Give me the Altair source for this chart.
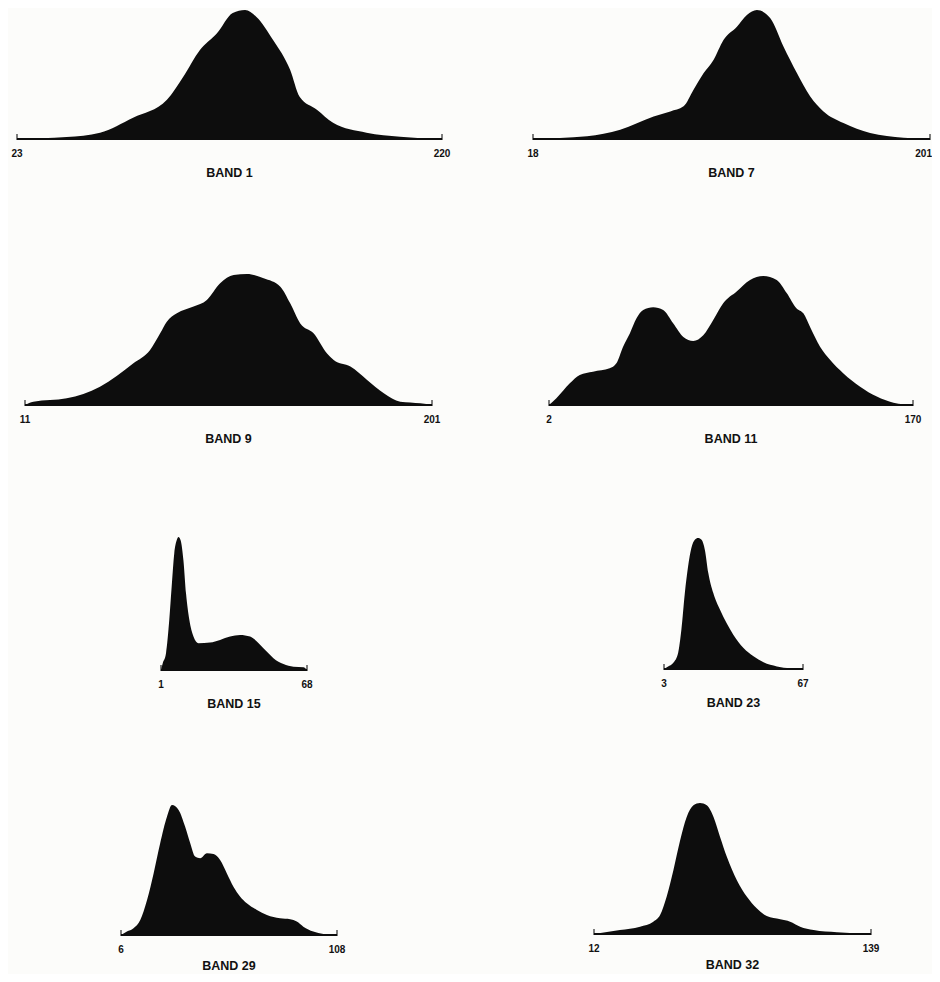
import altair as alt
import pandas as pd

# ---------------- data (brightness level, relative frequency %) ----------------
b1_x = [23, 46, 61.5, 76.8, 92.5, 100, 107.8, 115.7, 123, 128.7, 134, 141.7, 149.6, 154, 162, 169.5, 185, 200.6, 220]
b1_y = [0, 1.5, 4.9, 16.5, 30.4, 48, 69, 82, 97.7, 100, 94.6, 76.8, 53.6, 32.7, 22.7, 12.6, 4.9, 1.8, 0]

b7_x = [18, 42.9, 58.2, 73.6, 81.3, 87.4, 92, 96.6, 101.2, 105.8, 112, 116.6, 121.2, 127.4, 133.5, 139.7, 145.8, 151.9, 161.1, 173.4, 188.8, 201]
b7_y = [0, 2.1, 7.2, 17.5, 21.4, 25.3, 38.1, 50.9, 61.3, 76.8, 87.1, 96.1, 100, 93.6, 71.6, 51, 33, 21.4, 12.4, 4.6, 1, 0]

b9_x = [11, 14.9, 30.5, 46, 61.6, 69.4, 74.1, 77.2, 81.9, 89.7, 95.9, 102.1, 108.4, 114.6, 122.4, 130.2, 134.8, 139.5, 145.7, 152, 155.1, 162.9, 170.7, 178.5, 186.2, 195.6, 201]
b9_y = [0, 2.5, 5.1, 14, 31.8, 42, 54.7, 63.6, 70, 75.1, 80.2, 92.9, 99.2, 100, 96.7, 90.3, 77.6, 62.3, 54.7, 39.4, 34.4, 29.3, 19.1, 8.9, 2.5, 1.3, 0]

b11_x = [2, 5.4, 11.6, 16.2, 22.3, 30, 33.1, 36.2, 39.3, 42.4, 45.5, 50.1, 54.7, 59.3, 64, 68.6, 73.2, 77.8, 82.4, 88.6, 94.8, 100.9, 107.1, 111.7, 116.3, 119.4, 122.5, 127.1, 131.8, 137.9, 145.6, 153.3, 161, 170]
b11_y = [0, 5.2, 16.8, 23.3, 25.8, 28.4, 32.3, 45.2, 55.5, 67.2, 73.6, 75.7, 73.6, 63.3, 52.7, 49.6, 54, 65.9, 78.8, 87.9, 96.9, 100, 96.9, 86.8, 74.9, 71.1, 60.5, 45.2, 34.9, 24.5, 14.2, 6.5, 1.8, 0]

b15_x = [1, 1.8, 3.3, 4.8, 5.9, 7.1, 8.2, 9, 10, 11.3, 12.5, 14, 15.9, 18.2, 23.5, 28.1, 32.7, 37.3, 41.9, 45.8, 48, 50.3, 52.6, 57.2, 61.8, 66.4, 68]
b15_y = [0, 5, 12.6, 37.7, 62.8, 87.9, 97.5, 100, 97.5, 82.4, 57.3, 37.7, 25.1, 20.1, 20.6, 22.6, 25.1, 26.4, 25.1, 20.1, 16.3, 12.6, 8.8, 4.5, 2.5, 2, 0]

b23_x = [3, 4.9, 7.2, 9.5, 11, 12.6, 14.1, 15.6, 17.2, 18.7, 20.3, 21.8, 23.4, 25.7, 28.8, 31.8, 34.9, 39.6, 44.2, 48.8, 55, 61.2, 67]
b23_y = [0, 2, 4.6, 12.2, 30, 58, 78.4, 92.4, 98.7, 100, 98.7, 91.1, 73.3, 58, 45.3, 35.1, 26.2, 16, 9.7, 5.1, 2, 0.5, 0]

b29_x = [6, 8.8, 11.9, 15.1, 18.3, 21.4, 24.5, 27.7, 30.1, 33.2, 36.3, 38.7, 41, 43.4, 46.6, 49.7, 52.8, 56, 59.1, 62.3, 65.4, 70.2, 74.9, 81.1, 85.9, 89, 92.1, 96.8, 101.6, 108]
b29_y = [0, 2.6, 5.1, 11.5, 26.9, 47.4, 70.5, 91, 100, 96.2, 83.3, 70.5, 60.3, 59, 62.8, 62.3, 57.7, 47.4, 37.2, 29.5, 24.4, 19.2, 15.4, 12.8, 12.1, 10.3, 6.4, 2.6, 0.8, 0]

b32_x = [12, 23.9, 33.1, 39.2, 42.3, 45.3, 48.4, 51.5, 54.5, 57.6, 60.6, 63.7, 66.8, 69.8, 72.9, 77.5, 82.1, 86.7, 91.2, 97.4, 101.9, 106.5, 112.7, 123.4, 139]
b32_y = [0, 3, 5.6, 9.4, 14.5, 28.4, 48.7, 71.6, 89.3, 98.2, 100, 98.2, 89.3, 74.1, 58.9, 41.1, 28.4, 19.5, 13.7, 11.2, 9.4, 5.6, 3, 1.3, 0]

band_names = ["BAND 1", "BAND 7", "BAND 9", "BAND 11", "BAND 15", "BAND 23", "BAND 29", "BAND 32"]
band_min = [23, 18, 11, 2, 1, 3, 6, 12]
band_max = [220, 201, 201, 170, 68, 67, 108, 139]
series_x = [b1_x, b7_x, b9_x, b11_x, b15_x, b23_x, b29_x, b32_x]
series_y = [b1_y, b7_y, b9_y, b11_y, b15_y, b23_y, b29_y, b32_y]

# ---------------- layout: pixel ranges of each panel's scales ----------------
x_ranges = [[9, 434], [525, 922], [17, 424], [541, 905],
            [153, 299], [656, 795], [113, 329], [586, 863]]
y_ranges = [[131, 2], [131, 2], [397, 266], [397, 268],
            [662, 529], [661, 530], [927, 797], [926, 795]]
max_label_align = ["center", "right", "center", "center", "center", "center", "center", "center"]
max_label_dx = [0, 2, 0, 0, 0, 0, 0, 0]
band_label_dy = [34, 34, 34, 34, 34, 34, 31, 31]

INK = "#0d0d0d"
FONT = "Liberation Sans"

layers = []
for i, (name, lo, hi, xs, ys, xr, yr) in enumerate(zip(band_names, band_min, band_max,
                                                        series_x, series_y, x_ranges, y_ranges)):
    xsc = alt.Scale(domain=[lo, hi], range=xr, nice=False, zero=False)
    ysc = alt.Scale(domain=[0, 100], range=yr, nice=False)
    df = pd.DataFrame({"v": xs, "f": ys})
    area = alt.Chart(df).mark_area(color=INK, interpolate="monotone").encode(
        x=alt.X("v:Q", scale=xsc, axis=None),
        y=alt.Y("f:Q", scale=ysc, axis=None),
    )
    base_df = pd.DataFrame({"a": [lo], "b": [hi], "f": [0]})
    base = alt.Chart(base_df).mark_rule(color=INK, strokeWidth=2).encode(
        x=alt.X("a:Q", scale=xsc, axis=None),
        x2="b:Q",
        y=alt.Y("f:Q", scale=ysc, axis=None),
    )
    ends_df = pd.DataFrame({"v": [lo, hi], "f": [0, 0]})
    ticks = alt.Chart(ends_df).mark_tick(color=INK, orient="vertical", size=6,
                                         thickness=1.5, yOffset=-2).encode(
        x=alt.X("v:Q", scale=xsc, axis=None),
        y=alt.Y("f:Q", scale=ysc, axis=None),
    )
    nums = []
    for val, al, shift in [(lo, "center", 0), (hi, max_label_align[i], max_label_dx[i])]:
        ndf = pd.DataFrame({"v": [val], "f": [0], "lab": [str(val)]})
        nums.append(alt.Chart(ndf).mark_text(color="#111111", font=FONT, fontSize=10,
                                             fontWeight="bold", dy=15, dx=shift,
                                             baseline="middle", align=al).encode(
            x=alt.X("v:Q", scale=xsc, axis=None),
            y=alt.Y("f:Q", scale=ysc, axis=None),
            text="lab:N",
        ))
    lab_df = pd.DataFrame({"v": [(lo + hi) / 2], "f": [0], "lab": [name]})
    label = alt.Chart(lab_df).mark_text(color="#111111", font=FONT, fontSize=12.5,
                                        fontWeight="bold", dy=band_label_dy[i],
                                        baseline="middle", align="center").encode(
        x=alt.X("v:Q", scale=xsc, axis=None),
        y=alt.Y("f:Q", scale=ysc, axis=None),
        text="lab:N",
    )
    layers += [area, base, ticks] + nums + [label]

chart = alt.layer(*layers).resolve_scale(
    x="independent", y="independent"
).properties(
    width=924, height=966, padding=0, autosize="none", background="#fcfcfa"
).configure_view(stroke=None)

chart.save("out.html", embed_options={"renderer": "svg", "actions": False})
